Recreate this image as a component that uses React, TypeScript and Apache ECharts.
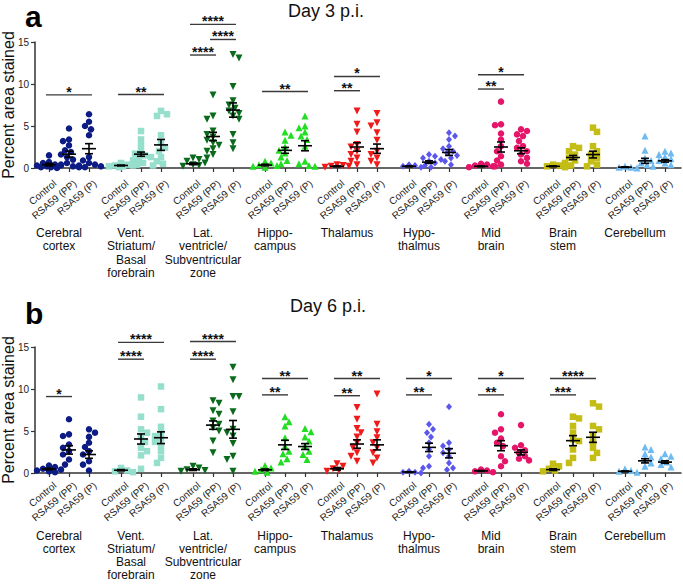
import React, { useEffect, useRef } from 'react';
import * as echarts from 'echarts';

const groupLabels = ['Control', 'RSA59 (PP)', 'RSA59 (P)'];
const regionLabels = [
  'Cerebral\ncortex',
  'Vent.\nStriatum/\nBasal\nforebrain',
  'Lat.\nventricle/\nSubventricular\nzone',
  'Hippo-\ncampus',
  'Thalamus',
  'Hypo-\nthalmus',
  'Mid\nbrain',
  'Brain\nstem',
  'Cerebellum',
];
const regionColors = ['#0c1c84', '#96dfcd', '#0b6a1c', '#22dd22', '#f01a1a', '#5b57ec', '#e5156a', '#c4bd16', '#6dbbf2'];
const regionSymbols = ['circle', 'rect', 'triangle', 'triangle', 'triangle', 'diamond', 'circle', 'rect', 'triangle'];
const regionSymbolRotate = [0, 0, 180, 0, 180, 0, 0, 0, 0];
const yTickValues = [0, 5, 10, 15];
const panelTitles = ['Day 3 p.i.', 'Day 6 p.i.'];
const panelLetters = ['a', 'b'];
const yAxisName = 'Percent area stained';

// ---- Day 3 p.i. : [Control, RSA59 (PP), RSA59 (P)] per region ----
const day3Cortex = [
  [1.5, 0.7, 0.6, 0.4, 0.3, 0.2, 0.1, 0.1, 0.0, 0.3],
  [4.7, 3.4, 3.2, 2.7, 2.1, 1.9, 1.6, 1.3, 1.0, 0.6, 0.4, 0.2, 0.1],
  [6.4, 5.5, 5.0, 4.6, 3.9, 1.3, 0.9, 0.6, 0.4, 0.2, 0.1, 0.3],
];
const day3Vent = [
  [0.6, 0.4, 0.3, 0.2, 0.2, 0.1, 0.3],
  [4.4, 3.4, 2.7, 2.0, 1.7, 1.5, 1.3, 1.1, 0.9, 0.6, 0.4],
  [6.8, 6.4, 6.2, 3.9, 3.0, 2.4, 2.0, 1.3, 0.8, 0.5, 0.3],
];
const day3Lat = [
  [1.2, 1.0, 0.8, 0.6, 0.4, 0.3, 0.2],
  [8.7, 6.2, 5.8, 4.4, 4.0, 3.7, 3.3, 3.0, 2.7, 2.3, 2.0, 1.6, 1.2],
  [13.5, 13.1, 9.7, 8.0, 7.5, 7.1, 6.8, 6.5, 6.2, 5.8, 4.0, 3.0, 2.3],
];
const day3Hippo = [
  [0.8, 0.6, 0.4, 0.3, 0.2, 0.1],
  [4.3, 3.9, 3.3, 2.5, 2.1, 1.8, 1.3, 0.9, 0.5],
  [6.2, 5.0, 4.8, 4.3, 3.8, 3.4, 2.6, 0.8, 0.5, 0.3, 0.2],
];
const day3Thal = [
  [0.4, 0.3, 0.2, 0.2, 0.1],
  [6.8, 5.2, 4.3, 2.8, 2.5, 2.0, 1.6, 1.2, 0.8, 0.4],
  [6.5, 5.4, 5.0, 4.2, 3.3, 2.0, 1.6, 1.2, 0.8, 0.4],
];
const day3Hypo = [
  [0.4, 0.3, 0.2, 0.1],
  [1.6, 1.4, 1.2, 1.0, 0.8, 0.6, 0.3, 0.1],
  [4.2, 3.8, 3.4, 2.6, 2.3, 2.0, 1.8, 1.5, 1.2, 0.8, 0.4],
];
const day3Mid = [
  [0.5, 0.4, 0.3, 0.2, 0.1],
  [7.9, 5.2, 5.1, 4.1, 3.4, 2.6, 2.0, 1.4, 0.9, 0.4, 0.2],
  [4.6, 4.4, 4.0, 3.8, 3.2, 2.6, 2.4, 2.0, 1.6, 1.2, 0.8, 0.5],
];
const day3Stem = [
  [0.4, 0.3, 0.2, 0.1],
  [2.6, 2.4, 2.0, 1.6, 1.2, 0.9, 0.6, 0.3],
  [4.8, 4.3, 2.6, 2.0, 1.6, 1.2, 0.8, 0.4, 0.2],
];
const day3Cereb = [
  [0.2, 0.1, 0.1, 0.0],
  [3.8, 2.1, 1.2, 0.9, 0.6, 0.4, 0.2],
  [2.0, 1.8, 1.6, 1.3, 1.1, 0.9, 0.6, 0.4],
];
const day3Means = [
  [0.4, 1.65, 2.3], [0.3, 1.65, 2.75], [0.5, 3.75, 6.9], [0.35, 2.1, 2.65], [0.2, 2.5, 2.3],
  [0.2, 0.7, 1.85], [0.2, 2.5, 2.05], [0.2, 1.25, 1.6], [0.1, 0.85, 0.85],
];
const day3Sems = [
  [0.15, 0.35, 0.6], [0.05, 0.25, 0.65], [0.1, 0.5, 0.85], [0.1, 0.35, 0.6], [0.05, 0.5, 0.55],
  [0.05, 0.15, 0.35], [0.05, 0.6, 0.35], [0.05, 0.25, 0.4], [0.03, 0.3, 0.15],
];
// [region, fromGroup, toGroup, y, stars]
const day3Sig = [
  [0, 0, 2, 8.7, '*'],
  [1, 0, 2, 8.75, '**'],
  [2, 0, 2, 17.1, '****'],
  [2, 1, 2, 15.3, '****'],
  [2, 0, 1, 13.45, '****'],
  [3, 0, 2, 9.1, '**'],
  [4, 0, 1, 9.2, '**'],
  [4, 0, 2, 10.9, '*'],
  [6, 0, 1, 9.4, '**'],
  [6, 0, 2, 11.1, '*'],
];

// ---- Day 6 p.i. ----
const day6Cortex = [
  [0.9, 0.7, 0.5, 0.4, 0.3, 0.2, 0.1],
  [6.4, 4.6, 4.4, 3.4, 3.0, 2.6, 2.2, 1.6, 1.0],
  [5.2, 4.8, 4.3, 3.6, 3.1, 2.6, 2.2, 1.4, 1.0, 0.3],
];
const day6Vent = [
  [0.6, 0.3, 0.2, 0.1],
  [9.0, 6.7, 5.2, 4.8, 4.3, 3.7, 3.0, 2.6, 2.1, 0.5],
  [10.3, 7.6, 5.5, 4.8, 4.4, 4.1, 3.7, 3.3, 2.6, 1.8, 1.2],
];
const day6Lat = [
  [0.8, 0.6, 0.4, 0.3, 0.2],
  [8.6, 8.3, 7.4, 7.0, 6.2, 5.8, 5.4, 5.0, 3.8, 2.4],
  [12.6, 11.1, 9.1, 9.1, 7.3, 5.2, 4.8, 4.4, 3.5, 2.0, 1.6, 0.2],
];
const day6Hippo = [
  [0.9, 0.6, 0.4, 0.2, 0.1],
  [6.7, 6.1, 5.6, 4.2, 3.2, 2.6, 2.3, 1.7, 1.3],
  [5.3, 4.9, 4.3, 3.8, 3.2, 2.6, 2.2, 1.6],
];
const day6Thal = [
  [1.1, 0.8, 0.5, 0.3, 0.2],
  [7.8, 6.4, 5.3, 4.8, 4.3, 3.6, 3.0, 2.4, 2.0, 1.4],
  [9.4, 5.8, 4.9, 4.2, 3.6, 3.0, 2.4, 1.8, 1.2],
];
const day6Hypo = [
  [0.2, 0.1, 0.1, 0.0],
  [5.8, 5.2, 4.8, 4.3, 3.6, 2.8, 2.0, 0.8, 0.6],
  [7.9, 3.6, 3.2, 2.8, 2.4, 2.0, 1.2, 0.6, 0.4],
];
const day6Mid = [
  [0.4, 0.3, 0.2, 0.1],
  [7.0, 5.2, 4.8, 4.1, 3.6, 3.2, 2.0, 1.4, 0.8],
  [5.7, 3.3, 3.0, 2.7, 2.4, 2.0, 1.7, 1.5],
];
const day6Stem = [
  [1.1, 0.8, 0.5, 0.3, 0.2],
  [6.7, 6.5, 5.6, 4.8, 4.0, 3.8, 2.8, 1.8, 1.2],
  [8.3, 7.9, 5.6, 5.2, 4.5, 3.7, 3.0, 2.4, 1.8],
];
const day6Cereb = [
  [0.5, 0.3, 0.2, 0.1],
  [3.1, 2.8, 2.3, 1.9, 1.6, 1.2, 0.8],
  [2.3, 2.0, 1.7, 1.3, 1.0, 0.7],
];
const day6Means = [
  [0.48, 2.75, 2.2], [0.33, 4.05, 4.2], [0.4, 5.7, 5.2], [0.38, 3.35, 3.15], [0.5, 3.45, 3.35],
  [0.12, 3.05, 2.35], [0.25, 3.25, 2.45], [0.4, 3.85, 4.25], [0.2, 1.45, 1.3],
];
const day6Sems = [
  [0.1, 0.5, 0.45], [0.08, 0.6, 0.7], [0.1, 0.5, 1.05], [0.1, 0.55, 0.35], [0.15, 0.5, 0.6],
  [0.03, 0.5, 0.55], [0.05, 0.6, 0.3], [0.1, 0.6, 0.6], [0.05, 0.25, 0.15],
];
const day6Sig = [
  [0, 0, 1, 9.1, '*'],
  [1, 0, 2, 15.55, '****'],
  [1, 0, 1, 13.55, '****'],
  [2, 0, 2, 15.65, '****'],
  [2, 0, 1, 13.55, '****'],
  [3, 0, 2, 11.25, '**'],
  [3, 0, 1, 9.3, '**'],
  [4, 0, 2, 11.25, '**'],
  [4, 0, 1, 9.2, '**'],
  [5, 0, 2, 11.25, '*'],
  [5, 0, 1, 9.3, '**'],
  [6, 0, 2, 11.25, '*'],
  [6, 0, 1, 9.3, '**'],
  [7, 0, 2, 11.25, '****'],
  [7, 0, 1, 9.3, '***'],
];

const day3Points = [day3Cortex, day3Vent, day3Lat, day3Hippo, day3Thal, day3Hypo, day3Mid, day3Stem, day3Cereb];
const day6Points = [day6Cortex, day6Vent, day6Lat, day6Hippo, day6Thal, day6Hypo, day6Mid, day6Stem, day6Cereb];

// ---- layout (fine category slots of 2px) ----
const LEAD = 7;
const REGION_STEP = 36;
const GROUP_STEP = 10;
const N_SLOTS = 324;
const LABEL_SHIFT = 3;
const REGION_LABEL_SHIFT = 5;
const SLOT_PX = 2;
const VALUE_PX = 8.4;
const FONT = '"Liberation Sans", Arial, Helvetica, sans-serif';

const categories = Array.from({ length: N_SLOTS }, (_, i) => String(i));
const slotOf = (r: number, g: number) => LEAD + REGION_STEP * r + GROUP_STEP * g;
const groupLabelAt = (i: number) => {
  const k = i - LABEL_SHIFT - LEAD;
  if (k < 0) return '';
  const m = k % REGION_STEP;
  if (m % GROUP_STEP !== 0 || m > 20) return '';
  return groupLabels[m / GROUP_STEP];
};
const isTickSlot = (i: number) => {
  const k = i - LEAD;
  if (k < 0) return false;
  const m = k % REGION_STEP;
  return m % GROUP_STEP === 0 && m <= 20;
};
const regionLabelAt = (i: number) => {
  const k = i - REGION_LABEL_SHIFT - LEAD;
  if (k < 0 || k % REGION_STEP !== 0) return '';
  return regionLabels[k / REGION_STEP] || '';
};

function swarm(vals: number[]): number[] {
  const order = vals.map((_, i) => i).sort((a, b) => vals[b] - vals[a]);
  const placed: { k: number; y: number }[] = [];
  const out = new Array(vals.length).fill(0);
  for (const i of order) {
    const y = vals[i] * VALUE_PX;
    const flip = placed.length % 2 === 0 ? 1 : -1;
    const cands = [0];
    for (let k = 1; k <= 6; k++) cands.push(-k * flip, k * flip);
    let best = 0;
    let bestD = -1;
    for (const k of cands) {
      let dmin = Infinity;
      for (const p of placed) {
        const d = Math.hypot((k - p.k) * SLOT_PX, y - p.y);
        if (d < dmin) dmin = d;
      }
      if (dmin >= 5.5) { best = k; break; }
      if (dmin > bestD) { bestD = dmin; best = k; }
    }
    placed.push({ k: best, y });
    out[i] = best;
  }
  return out;
}

function buildPanel(p: number, points: number[][][], means: number[][], sems: number[][], sig: any[]) {
  const series: any[] = [];
  points.forEach((groupsVals, r) => {
    const data: number[][] = [];
    groupsVals.forEach((vals, g) => {
      const off = swarm(vals);
      vals.forEach((v, i) => data.push([slotOf(r, g) + off[i], v]));
    });
    series.push({
      type: 'scatter',
      name: regionLabels[r].replace(/\n/g, ' ') + ' ' + panelTitles[p],
      xAxisIndex: p * 2,
      yAxisIndex: p,
      data,
      symbol: regionSymbols[r],
      symbolRotate: regionSymbolRotate[r],
      symbolSize: regionSymbols[r] === 'triangle' ? 7 : regionSymbols[r] === 'diamond' ? [6, 7] : 6.5,
      itemStyle: { color: regionColors[r], opacity: 1 },
      z: 2,
      silent: true,
    });
  });
  const ebData: number[][] = [];
  means.forEach((row, r) => row.forEach((m, g) => ebData.push([slotOf(r, g), m, sems[r][g]])));
  series.push({
    type: 'custom',
    xAxisIndex: p * 2,
    yAxisIndex: p,
    clip: false,
    z: 5,
    encode: { x: 0, y: 1 },
    data: ebData,
    renderItem: (params: any, api: any) => {
      const x = api.value(0), m = api.value(1), s = api.value(2);
      const c = api.coord([x, m]);
      const hi = api.coord([x, m + s]);
      const lo = api.coord([x, m - s]);
      const st = { stroke: '#000', lineWidth: 1.6 };
      return {
        type: 'group',
        children: [
          { type: 'line', shape: { x1: c[0] - 7, y1: c[1], x2: c[0] + 7, y2: c[1] }, style: st },
          { type: 'line', shape: { x1: c[0], y1: hi[1], x2: c[0], y2: lo[1] }, style: st },
          { type: 'line', shape: { x1: c[0] - 4, y1: hi[1], x2: c[0] + 4, y2: hi[1] }, style: st },
          { type: 'line', shape: { x1: c[0] - 4, y1: lo[1], x2: c[0] + 4, y2: lo[1] }, style: st },
        ],
      };
    },
  });
  series.push({
    type: 'custom',
    xAxisIndex: p * 2,
    yAxisIndex: p,
    clip: false,
    z: 5,
    encode: { x: [0, 1], y: 2 },
    data: sig.map((s) => [slotOf(s[0], s[1]), slotOf(s[0], s[2]), s[3]]),
    renderItem: (params: any, api: any) => {
      const a = api.coord([api.value(0), api.value(2)]);
      const b = api.coord([api.value(1), api.value(2)]);
      const txt = sig[params.dataIndex][4];
      return {
        type: 'group',
        children: [
          { type: 'line', shape: { x1: a[0] - 3, y1: a[1], x2: b[0] + 3, y2: b[1] }, style: { stroke: '#3a3a3a', lineWidth: 1.4 } },
          {
            type: 'text',
            x: (a[0] + b[0]) / 2,
            y: a[1] - 3,
            style: { text: txt, fill: '#111', font: 'bold 14px ' + FONT, align: 'center', verticalAlign: 'middle' },
          },
        ],
      };
    },
  });
  return series;
}

export default function App() {
  const ref = useRef<HTMLDivElement>(null);
  useEffect(() => {
    if (!ref.current) return;
    const chart = echarts.init(ref.current, undefined, { renderer: 'svg' });
    const grids = [
      { left: 35, right: 2, top: 42, height: 126, outerBoundsMode: 'none', containLabel: false },
      { left: 35, right: 2, top: 347, height: 126, outerBoundsMode: 'none', containLabel: false },
    ];
    const labelMargins = [14, 11];
    const regionMargins = [58, 56];
    const regionLineHeights = [13.5, 13];
    const xAxis: any[] = [];
    const yAxis: any[] = [];
    [0, 1].forEach((p) => {
      xAxis.push({
        type: 'category',
        gridIndex: p,
        position: 'bottom',
        data: categories,
        boundaryGap: false,
        axisLine: { show: true, lineStyle: { color: '#333', width: 1.5 } },
        axisTick: { show: true, length: 4, interval: (i: number) => isTickSlot(i), lineStyle: { color: '#333', width: 1.2 } },
        axisLabel: {
          interval: (i: number) => groupLabelAt(i) !== '',
          formatter: (v: string) => groupLabelAt(Number(v)),
          rotate: 40,
          fontSize: 10,
          color: '#222',
          fontFamily: FONT,
          margin: labelMargins[p],
        },
        splitLine: { show: false },
      });
      xAxis.push({
        type: 'category',
        gridIndex: p,
        position: 'bottom',
        data: categories,
        boundaryGap: false,
        axisLine: { show: false },
        axisTick: { show: false },
        axisLabel: {
          interval: (i: number) => regionLabelAt(i) !== '',
          formatter: (v: string) => regionLabelAt(Number(v)),
          fontSize: 12,
          lineHeight: regionLineHeights[p],
          color: '#111',
          fontFamily: FONT,
          margin: regionMargins[p],
          align: 'center',
        },
        splitLine: { show: false },
      });
      yAxis.push({
        type: 'value',
        gridIndex: p,
        min: yTickValues[0],
        max: yTickValues[yTickValues.length - 1],
        interval: yTickValues[1] - yTickValues[0],
        name: yAxisName,
        nameLocation: 'middle',
        nameGap: 19,
        nameMoveOverlap: false,
        nameTextStyle: { fontSize: 16, color: '#111', fontFamily: FONT },
        axisLine: { show: true, lineStyle: { color: '#333', width: 1.5 } },
        axisTick: { show: true, length: 4, lineStyle: { color: '#333', width: 1.2 } },
        axisLabel: { fontSize: 10, color: '#222', fontFamily: FONT, margin: 6 },
        splitLine: { show: false },
      });
    });
    const series = [
      ...buildPanel(0, day3Points, day3Means, day3Sems, day3Sig),
      ...buildPanel(1, day6Points, day6Means, day6Sems, day6Sig),
    ];
    chart.setOption({
      animation: false,
      backgroundColor: '#fff',
      textStyle: { fontFamily: FONT },
      grid: grids,
      xAxis,
      yAxis,
      series,
      graphic: [
        { type: 'text', x: 326, y: 10.5, style: { text: panelTitles[0], font: '18px ' + FONT, fill: '#111', align: 'center', verticalAlign: 'middle' } },
        { type: 'text', x: 328, y: 306, style: { text: panelTitles[1], font: '18px ' + FONT, fill: '#111', align: 'center', verticalAlign: 'middle' } },
        { type: 'text', x: 25, y: 16, style: { text: panelLetters[0], font: 'bold 30px ' + FONT, fill: '#000', align: 'left', verticalAlign: 'middle' } },
        { type: 'text', x: 25, y: 313, style: { text: panelLetters[1], font: 'bold 30px ' + FONT, fill: '#000', align: 'left', verticalAlign: 'middle' } },
      ],
    });
    return () => chart.dispose();
  }, []);
  return <div ref={ref} style={{ position: 'absolute', left: 0, top: 0, width: 683, height: 584 }} />;
}
